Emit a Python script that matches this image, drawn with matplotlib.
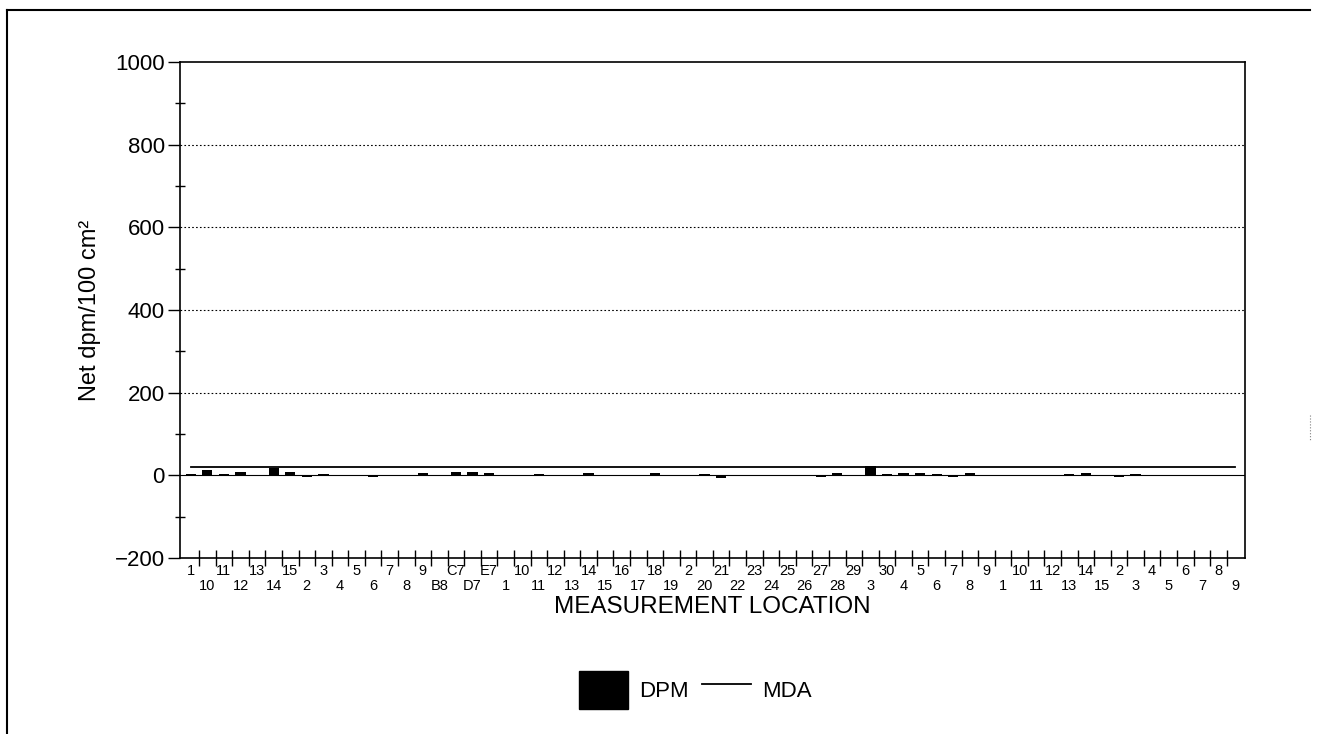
import numpy as np
import matplotlib
matplotlib.use("Agg")
import matplotlib.pyplot as plt
from matplotlib.patches import Patch
from matplotlib.lines import Line2D

plt.rcParams['font.family'] = ['Liberation Sans', 'DejaVu Sans']

# measurement locations (three survey groups, sorted as text)
group1 = ["1", "10", "11", "12", "13", "14", "15", "2", "3", "4", "5", "6", "7", "8", "9",
          "B8", "C7", "D7", "E7"]
group2 = ["1", "10", "11", "12", "13", "14", "15", "16", "17", "18", "19",
          "2", "20", "21", "22", "23", "24", "25", "26", "27", "28", "29",
          "3", "30", "4", "5", "6", "7", "8", "9"]
group3 = ["1", "10", "11", "12", "13", "14", "15", "2", "3", "4", "5", "6", "7", "8", "9"]
locations = group1 + group2 + group3

# net dpm/100 cm2
dpm = [3, 12, 3, 7, 1, 17, 8, -3, 3, -2, 0, -3, 1, 2, 5,
       1, 8, 7, 6,
       1, 2, 3, 1, -2, 5, 0, 1, 2, 5, 2,
       1, 3, -6, 1, 2, 2, 1, 0, -5, 6, 1,
       22, 4, 5, 6, 4, -3, 6, 2,
       2, 1, 1, -2, 4, 5, 1, -4, 3, 1, 1, 1, -2, 1, 1]
mda = [20] * len(locations)

fig = plt.figure(figsize=(13.17, 7.34), dpi=100)
ax = fig.add_axes([180 / 1317, 1 - 558 / 734, (1245 - 180) / 1317, (558 - 62) / 734])

x = np.arange(len(locations))
ax.bar(x, dpm, width=0.62, color='black', zorder=3)
ax.plot(x, mda, color='black', lw=1.3, zorder=4)

ax.set_ylim(-200, 1000)
ax.set_xlim(-0.65, len(locations) - 0.4)
ax.set_yticks(np.arange(-200, 1001, 200))
ax.set_yticks(np.arange(-100, 1000, 200), minor=True)
ax.tick_params(axis='y', which='major', direction='out', length=9, width=1, labelsize=16, pad=2)
ax.tick_params(axis='y', which='minor', direction='inout', length=7, width=1)
for yv in [200, 400, 600, 800]:
    ax.axhline(yv, color='black', lw=0.8, ls=(0, (1.5, 2)), zorder=1)
ax.axhline(0, color='black', lw=0.8, zorder=2)

# ticks at category boundaries, labels staggered on two rows
ax.set_xticks(x[:-1] + 0.5)
ax.set_xticklabels([])
ax.tick_params(axis='x', which='major', direction='inout', length=12, width=1)
for i, lab in enumerate(locations):
    yoff = -0.012 if i % 2 == 0 else -0.043
    ax.text(i, yoff, lab, transform=ax.get_xaxis_transform(), ha='center', va='top',
            fontsize=10.5)

for sp in ax.spines.values():
    sp.set_linewidth(1.2)

ax.set_ylabel("Net dpm/100 cm²", fontsize=17, labelpad=10)
fig.text(712 / 1317, 1 - 607 / 734, "MEASUREMENT LOCATION", ha='center', va='center', fontsize=17.5)

handles = [Patch(facecolor='black', edgecolor='black'),
           Line2D([0], [0], color='black', lw=1.3)]
fig.legend(handles, ["DPM", "MDA"], loc='center', bbox_to_anchor=(695 / 1317, 1 - 690 / 734),
           ncol=2, frameon=False, fontsize=16, handlelength=2.2, handleheight=2.2,
           columnspacing=0.6, handletextpad=0.5)

# outer frame around the figure
fig.add_artist(Line2D([7 / 1317, 7 / 1317], [0, 1 - 10 / 734], color='black', lw=1.5))
fig.add_artist(Line2D([7 / 1317, 1310 / 1317], [1 - 10 / 734, 1 - 10 / 734], color='black', lw=1.5))
fig.add_artist(Line2D([1310 / 1317, 1310 / 1317], [1 - 415 / 734, 1 - 440 / 734],
                      color='gray', lw=0.8, ls=':'))

fig.savefig("out.png", dpi=100)
